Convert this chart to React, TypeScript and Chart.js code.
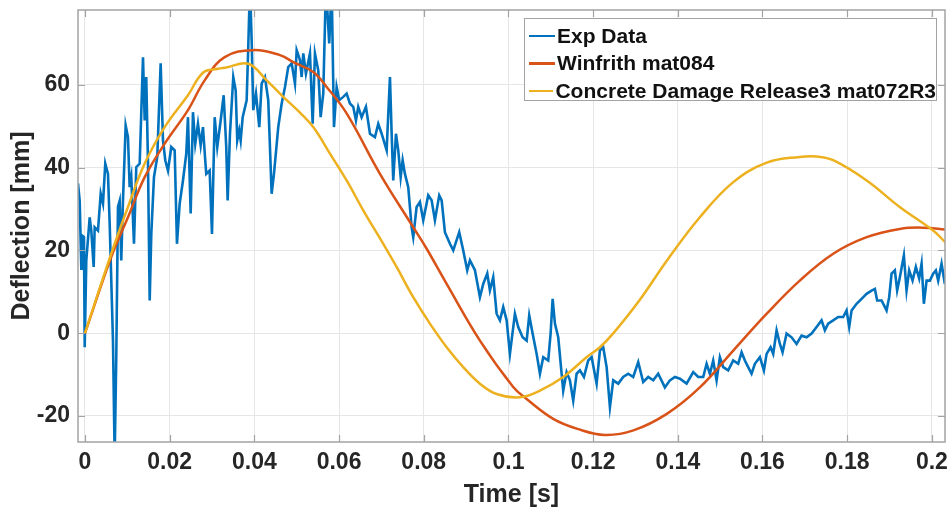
import React, { useEffect, useRef } from "react";
import { Chart, registerables } from "chart.js";

Chart.register(...registerables);

const seriesNames = ["Exp Data", "Winfrith mat084", "Concrete Damage Release3 mat072R3"];
const seriesColors = ["#0072BD", "#D95319", "#EDB120"];
const xTitle = "Time [s]";
const yTitle = "Deflection [mm]";

const expTime = [
  -0.00165, -0.00125, -0.00087, -0.00071, -0.00024, -0.00007, 0.00031, 0.00111, 0.00149, 0.00205,
  0.00229, 0.00307, 0.00371, 0.00425, 0.00479, 0.00543, 0.00583, 0.00661, 0.00701, 0.00739,
  0.00779, 0.00819, 0.00857, 0.00897, 0.00961, 0.01015, 0.01055, 0.01093, 0.01157, 0.01211,
  0.01292, 0.0137, 0.0141, 0.01447, 0.01488, 0.01528, 0.01566, 0.01629, 0.01707, 0.01787,
  0.01842, 0.01896, 0.0196, 0.02038, 0.02118, 0.02172, 0.02236, 0.02314, 0.02392, 0.02432,
  0.02496, 0.0255, 0.02604, 0.02668, 0.02732, 0.02786, 0.02834, 0.02864, 0.02944, 0.02999,
  0.03063, 0.03124, 0.03204, 0.03275, 0.03336, 0.03369, 0.03424, 0.03502, 0.03559, 0.03596,
  0.03643, 0.03677, 0.03724, 0.03818, 0.03856, 0.03896, 0.03936, 0.03974, 0.04038, 0.04116,
  0.04172, 0.0425, 0.04328, 0.04408, 0.04463, 0.04564, 0.04645, 0.04723, 0.048, 0.04881,
  0.04959, 0.04999, 0.05077, 0.05117, 0.05155, 0.05218, 0.05313, 0.05377, 0.05431, 0.05509,
  0.05565, 0.05627, 0.0569, 0.05768, 0.05825, 0.0588, 0.05943, 0.06004, 0.06099, 0.06179,
  0.06257, 0.06335, 0.06399, 0.06453, 0.06533, 0.06635, 0.0673, 0.06848, 0.06926, 0.07006,
  0.07124, 0.07202, 0.07242, 0.0728, 0.07344, 0.07398, 0.07455, 0.07502, 0.07556, 0.07634,
  0.07714, 0.07752, 0.07832, 0.0791, 0.07988, 0.08106, 0.08186, 0.08264, 0.08366, 0.08423,
  0.085, 0.08619, 0.08697, 0.08838, 0.08933, 0.09027, 0.09091, 0.09209, 0.09327, 0.09405,
  0.095, 0.09563, 0.09641, 0.09721, 0.09799, 0.09877, 0.09958, 0.10035, 0.10153, 0.10231,
  0.10335, 0.1043, 0.10491, 0.10571, 0.10666, 0.10744, 0.10822, 0.1094, 0.10996, 0.11044,
  0.11098, 0.11176, 0.11256, 0.11294, 0.11374, 0.11452, 0.1153, 0.1161, 0.11688, 0.11783,
  0.11884, 0.11965, 0.12083, 0.1216, 0.12238, 0.12319, 0.12397, 0.12475, 0.12593, 0.12711,
  0.12829, 0.12947, 0.13065, 0.13183, 0.13301, 0.13419, 0.13537, 0.13695, 0.13813, 0.13932,
  0.1405, 0.14208, 0.14364, 0.14482, 0.146, 0.1468, 0.14758, 0.14836, 0.14916, 0.14994,
  0.15072, 0.1519, 0.15308, 0.15426, 0.15506, 0.15584, 0.15662, 0.15742, 0.1582, 0.15939,
  0.16033, 0.16097, 0.16191, 0.16253, 0.16333, 0.16411, 0.16474, 0.16569, 0.16687, 0.16805,
  0.16923, 0.17041, 0.17159, 0.17277, 0.17395, 0.17473, 0.17551, 0.17669, 0.17788, 0.17906,
  0.17986, 0.18047, 0.18104, 0.18222, 0.1834, 0.18458, 0.18576, 0.18654, 0.18708, 0.18812,
  0.1893, 0.18992, 0.19048, 0.19126, 0.1918, 0.19244, 0.19339, 0.19402, 0.19464, 0.19544,
  0.19622, 0.197, 0.19757, 0.19811, 0.19875, 0.19953, 0.2003, 0.20094, 0.20149, 0.20229,
  0.20307,
];

const expDeflection = [
  36.2, 32, 15.6, 23.6, 23.2, -3.4, 17.6, 28, 24.8, 16,
  25.6, 24.8, 33.7, 31.3, 41, 38.5, 26.5, -1.8, -30, -5.8,
  30.5, 32, 17.6, 32, 50.2, 47.4, 35.3, 37.7, 21.6, 40.1,
  41, 66.7, 51.4, 61.9, 41, 7.9, 24, 37.7, 42.6, 65.2,
  46.6, 41.8, 39.3, 45, 44.2, 21.6, 31.3, 36.9, 43.4, 52.2,
  28.9, 53.4, 45.8, 50.6, 45.4, 49.8, 42.6, 38.5, 39.3, 24,
  52.2, 45, 51.4, 57.5, 45, 32.1, 48.2, 61.9, 58.7, 46.6,
  49, 46.6, 52.2, 56.3, 69.2, 84, 70.8, 53.9, 57.9, 49.8,
  60.3, 61.9, 56.3, 33.7, 38.5, 49.8, 55.5, 59.5, 64.3, 65.2,
  60.3, 68.4, 66, 61.9, 67.6, 62.7, 67.6, 50.6, 67.6, 63.5,
  52.2, 57.9, 84, 70, 84, 49.8, 59.5, 56.3, 57.1, 57.9,
  55.5, 54.7, 51.4, 54.7, 52.2, 54.7, 48.2, 47.4, 50.6, 48.2,
  44.2, 61.9, 48.2, 36.9, 48.2, 44.2, 37.7, 41.8, 38.5, 35.3,
  25.6, 23.2, 30.5, 31.7, 27.3, 33.3, 32.1, 27.3, 33.3, 32.1,
  24.4, 21.6, 20, 24.4, 20, 15.2, 17.6, 15.2, 8.7, 11.9,
  14.4, 10.3, 13.5, 4.7, 3.1, 6.3, 3.1, -5, 4.7, 1.5,
  -1, -1.8, 4.3, -0.1, -5, -9.8, -5.8, -6.6, -0.1, 8.3,
  2.3, -1, -9.8, -13.9, -9.4, -11.4, -16.3, -9.8, -9, -10.6,
  -6.6, -5.8, -12.2, -4.2, -3.4, -8.2, -17.9, -11.4, -12.2, -10.6,
  -9.8, -10.6, -7, -11.8, -10.6, -11.4, -9.8, -13.1, -11.4, -10.6,
  -11, -12.2, -9.4, -10.6, -10.6, -7.4, -9.8, -6.6, -11.4, -5.8,
  -8.2, -9, -6.6, -7.4, -4.6, -6.6, -8.2, -9.8, -7.4, -5.8,
  -9, -5, -3.4, -5, 0.7, -2.6, -4.6, -0.1, -1, -2.6,
  -0.6, -1, -0.1, 1.5, 3.1, 0.7, 2.3, 3.1, 3.9, 3.9,
  5.5, 1.5, 5.5, 7.1, 8.3, 9.5, 10.3, 10.7, 7.9, 7.9,
  5.5, 8.7, 14.4, 15.2, 10.3, 13.5, 18.8, 10.3, 15.2, 12.7,
  16, 13.2, 16.8, 7.1, 12.7, 12.7, 14.4, 15.2, 12.7, 16.8,
  11.9,
];

const winfrithTime = [
  0, 0.0062, 0.01015, 0.0141, 0.01882, 0.02432, 0.02826, 0.03299, 0.03974, 0.04604,
  0.04919, 0.05391, 0.05707, 0.06179, 0.06966, 0.07752, 0.08069, 0.08541, 0.09327, 0.10113,
  0.1043, 0.11058, 0.1165, 0.1228, 0.1295, 0.1374, 0.1452, 0.1531, 0.161, 0.1688,
  0.1767, 0.1846, 0.1924, 0.1979, 0.2035,
];
const winfrithDeflection = [
  0, 18.4, 28, 37.7, 45.8, 53.9, 61.1, 66.7, 68.4, 67.2,
  65.5, 63.1, 59.5, 53.1, 38.5, 25.6, 20.4, 11.9, -1.8, -13,
  -15.9, -20.7, -23.2, -24.6, -23.5, -19.5, -13.1, -4.2, 4.7, 12.7,
  19.2, 23.2, 25.2, 25.5, 25,
];

const concreteTime = [
  0, 0.0062, 0.01015, 0.0141, 0.01882, 0.02432, 0.02793, 0.0314, 0.03336, 0.03856,
  0.0429, 0.04682, 0.05077, 0.05391, 0.05785, 0.06179, 0.06571, 0.07044, 0.0736, 0.07752,
  0.08146, 0.08541, 0.08933, 0.09327, 0.09721, 0.10271, 0.10744, 0.11294, 0.11846, 0.1216,
  0.1248, 0.131, 0.1374, 0.1452, 0.1531, 0.161, 0.1688, 0.1728, 0.1767, 0.1846,
  0.1924, 0.2003, 0.2035,
];
const concreteDeflection = [
  0, 19.2, 30.5, 41, 49.8, 57.5, 63, 63.9, 64.2, 65.1,
  61.1, 57.1, 53.3, 49.8, 43.4, 36.9, 29.7, 21.6, 16, 8.7,
  2.3, -3.4, -8.2, -12.2, -14.7, -15.5, -13.9, -10.6, -5.8, -3.4,
  0, 8, 17.5, 28, 36.5, 41.2, 42.6, 42.7, 41.8, 36.9,
  30.5, 24.8, 21.6,
];

const xMin = -0.00165;
const xMax = 0.2031;
const yMin = -26.3;
const yMax = 78.1;
const xStep = 0.02;
const yStep = 20;

const FONT = "'Liberation Sans', Arial, Helvetica, sans-serif";
const TEXT = "#262626";
const BOX = "#a3a3a3";
const GRID = "#e6e6e6";

const toPoints = (xs: number[], ys: number[]) => xs.map((x, i) => ({ x, y: ys[i] }));

const boxPlugin = {
  id: "matlabBox",
  afterDatasetsDraw(chart: any) {
    const { ctx, chartArea } = chart;
    const { left, right, top, bottom } = chartArea;
    const tl = 7;
    ctx.save();
    ctx.strokeStyle = BOX;
    ctx.lineWidth = 1.2;
    ctx.beginPath();
    const xs = chart.scales.x;
    xs.ticks.forEach((t: any) => {
      const p = Math.round(xs.getPixelForValue(t.value)) + 0.5;
      ctx.moveTo(p, bottom);
      ctx.lineTo(p, bottom - tl);
      ctx.moveTo(p, top);
      ctx.lineTo(p, top + tl);
    });
    const ys = chart.scales.y;
    ys.ticks.forEach((t: any) => {
      const p = Math.round(ys.getPixelForValue(t.value)) + 0.5;
      ctx.moveTo(left, p);
      ctx.lineTo(left + tl, p);
      ctx.moveTo(right, p);
      ctx.lineTo(right - tl, p);
    });
    ctx.stroke();
    ctx.lineWidth = 1.5;
    ctx.strokeRect(left, top, right - left, bottom - top);
    ctx.restore();
  },
};

export default function App() {
  const canvasRef = useRef<HTMLCanvasElement | null>(null);

  useEffect(() => {
    if (!canvasRef.current) return;
    const chart = new Chart(canvasRef.current, {
      type: "line",
      data: {
        datasets: [
          {
            label: seriesNames[0],
            data: toPoints(expTime, expDeflection),
            borderColor: seriesColors[0],
            borderWidth: 2.6,
            pointRadius: 0,
            tension: 0,
            order: 2,
          },
          {
            label: seriesNames[1],
            data: toPoints(winfrithTime, winfrithDeflection),
            borderColor: seriesColors[1],
            borderWidth: 2.5,
            pointRadius: 0,
            tension: 0.4,
            order: 1,
          },
          {
            label: seriesNames[2],
            data: toPoints(concreteTime, concreteDeflection),
            borderColor: seriesColors[2],
            borderWidth: 2.5,
            pointRadius: 0,
            tension: 0.4,
            order: 0,
          },
        ],
      },
      options: {
        animation: false,
        responsive: true,
        maintainAspectRatio: false,
        devicePixelRatio: 1,
        layout: { padding: { top: 10, right: 4, left: 0, bottom: 0 } },
        plugins: { legend: { display: false }, tooltip: { enabled: false } },
        elements: { line: { fill: false } },
        scales: {
          x: {
            type: "linear",
            min: xMin,
            max: xMax,
            afterFit: (s: any) => {
              s.height = 66;
              s.paddingLeft = 0;
              s.paddingRight = 0;
            },
            grid: { color: GRID, lineWidth: 1, drawTicks: false },
            border: { display: false },
            ticks: {
              stepSize: xStep,
              includeBounds: false,
              padding: 7,
              maxRotation: 0,
              autoSkip: false,
              color: TEXT,
              font: { family: FONT, size: 23, weight: "bold" },
              callback: (v: any) => String(Number(Number(v).toFixed(3))),
            },
            title: {
              display: true,
              text: xTitle,
              color: TEXT,
              font: { family: FONT, size: 25, weight: "bold", lineHeight: 1 },
              padding: { top: 0, bottom: 0 },
            },
          },
          y: {
            type: "linear",
            min: yMin,
            max: yMax,
            afterFit: (s: any) => {
              s.width = 78;
              s.paddingTop = 0;
              s.paddingBottom = 0;
            },
            grid: { color: GRID, lineWidth: 1, drawTicks: false },
            border: { display: false },
            ticks: {
              stepSize: yStep,
              includeBounds: false,
              padding: 8,
              color: TEXT,
              font: { family: FONT, size: 23, weight: "bold" },
              callback: (v: any) => String(v),
            },
            title: {
              display: true,
              text: yTitle,
              color: TEXT,
              font: { family: FONT, size: 25, weight: "bold", lineHeight: 1 },
              padding: { top: 10, bottom: 0 },
            },
          },
        },
      } as any,
      plugins: [boxPlugin],
    });
    return () => chart.destroy();
  }, []);

  const rowStyle: React.CSSProperties = {
    display: "flex",
    alignItems: "center",
    height: 27.5,
  };

  return (
    <div style={{ position: "absolute", left: 0, top: 0, width: 949, height: 508, background: "#fff" }}>
      <canvas ref={canvasRef} />
      <div
        style={{
          position: "absolute",
          left: 524,
          top: 18,
          width: 413,
          height: 83,
          boxSizing: "border-box",
          border: `1.5px solid ${BOX}`,
          background: "#fff",
          paddingTop: 3,
          fontFamily: FONT,
          fontWeight: "bold",
          fontSize: 21,
          color: "#111",
        }}
      >
        {seriesNames.map((name, i) => (
          <div key={name} style={rowStyle}>
            <span
              style={{
                display: "inline-block",
                width: 26,
                height: 2.5,
                marginLeft: 4,
                marginRight: 2,
                background: seriesColors[i],
              }}
            />
            <span style={{ whiteSpace: "nowrap" }}>{name}</span>
          </div>
        ))}
      </div>
    </div>
  );
}
